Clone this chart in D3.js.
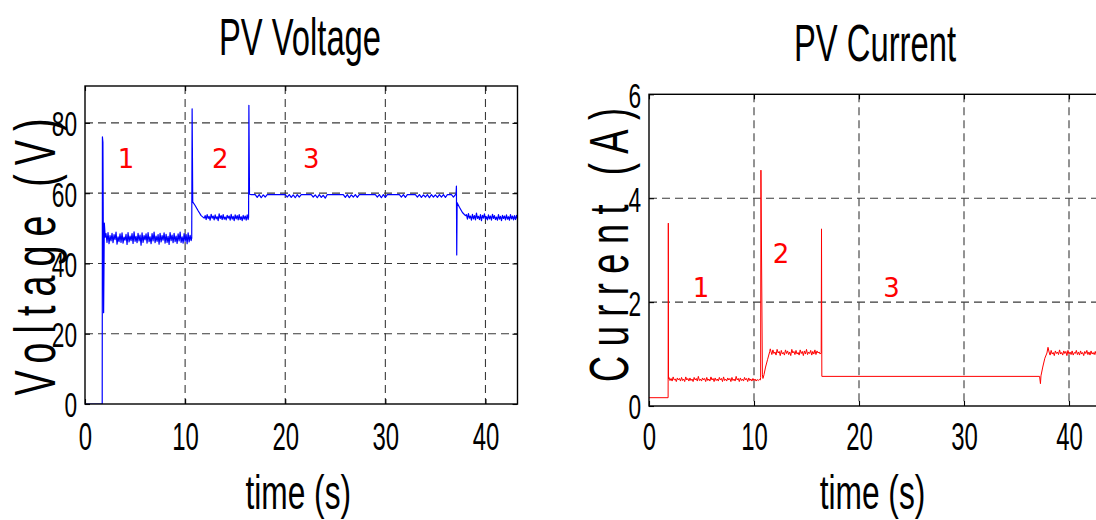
<!DOCTYPE html>
<html><head><meta charset="utf-8">
<script src="https://cdn.jsdelivr.net/npm/d3@7"></script>
<style>
html,body{margin:0;padding:0;background:#fff;}
svg{display:block;}
</style></head><body>
<svg id="chart" width="1096" height="520"></svg>
<script>
// ---------------- DATA ----------------
const xTicks = [0, 10, 20, 30, 40];
const voltageTicks = [0, 20, 40, 60, 80];
const currentTicks = [0, 2, 4, 6];
const xDomain = [0, 43.2];
const voltageDomain = [0, 90.5];
const currentDomain = [0, 6];
const SAMPLE_STEP = 0.1;      // sample step of the noisy recorded segments (s)
const FLAT_STEP = 0.2;        // sample step of the flat voltage segment (s)

// Voltage: hand-read key points (t, V)
const voltageStart = [[0,0],[1.72,0],[1.74,76],[1.79,74.5],[1.86,26],[1.93,51.5],[2.02,47.5]];
const voltageNoise1Start = 2.1;
const voltageNoise1 = [48.5,46.0,48.8,45.6,47.9,46.4,48.6,45.9,48.2,46.8,
48.9,45.5,47.6,46.2,48.4,46.0,48.7,45.8,47.5,46.6,
48.3,45.4,48.8,46.1,47.8,46.5,48.5,45.7,49.0,46.3,
47.7,45.9,48.6,46.4,48.1,45.2,48.7,46.0,47.9,46.7,
48.4,45.8,48.8,46.2,47.6,45.6,48.5,46.4,48.9,45.9,
47.8,46.3,48.2,45.5,48.6,46.1,47.9,46.6,48.7,45.8,
48.3,46.0,47.7,45.4,48.8,46.5,48.1,45.9,48.6,46.2,
47.8,45.7,48.4,46.4,48.9,46.0,47.6,45.8,48.5,46.3,
48.2,45.6,48.7,46.1,48.0,46.5];
const voltageStep2 = [[10.66,47.2],[10.7,84],[10.76,57.5],[11.0,56.5],[11.3,55],[11.6,53.6],[11.9,52.9]];
const voltageNoise2Start = 12.0;
const voltageNoise2 = [53.6,52.5,53.9,52.8,53.4,52.3,54.0,52.9,53.5,52.4,
53.8,52.7,53.3,52.2,54.1,52.8,53.6,52.5,53.9,52.6,
53.2,52.4,53.7,52.9,53.5,52.3,54.0,52.6,53.4,52.2,
53.8,52.7,53.6,52.4,53.9,52.5,53.3,52.2,53.7,52.6,
53.5,52.3,53.8,52.5];
const voltageStep3 = [[16.34,53.2],[16.37,85],[16.43,59.7]];
const voltageFlatStart = 16.6;
const voltageFlat = [59.6,59.6,59.6,58.8,59.6,58.7,59.5,58.9,59.6,59.6,
59.6,59.6,59.6,59.6,59.6,59.6,59.6,59.6,58.9,59.6,
58.8,59.5,58.7,59.6,58.9,59.6,59.6,59.6,59.6,59.6,
59.6,58.9,59.5,58.7,59.6,58.8,59.4,58.6,59.6,59.6,
59.6,59.6,59.6,59.6,59.6,59.6,59.6,58.8,59.6,58.7,
59.5,58.9,59.6,58.8,59.6,59.6,59.6,59.6,59.6,59.6,
59.6,59.6,59.6,58.9,59.6,58.7,59.6,58.8,59.6,59.6,
59.6,59.6,59.6,59.6,59.6,58.9,59.6,58.8,59.6,59.6,
59.6,59.6,59.6,58.9,59.6,58.8,59.5,58.9,59.6,58.7,
59.6,58.9,59.5,58.8,59.6,58.9,59.6,58.8,59.6,59.6,
59.6,58.9,59.6];
const voltageStep4 = [[37.06,59.6],[37.1,62],[37.13,42.4],[37.17,57.3],[37.4,56],[37.7,54.5],[38.0,53.6]];
const voltageNoise3Start = 38.1;
const voltageNoise3 = [53.9,52.6,54.2,52.9,53.5,52.3,54.0,52.7,53.6,52.4,
54.3,52.8,53.4,52.5,53.9,52.2,53.7,52.9,54.1,52.6,
53.3,52.4,53.8,52.7,53.5,52.3,54.0,52.8,53.6,52.5,
53.2,52.3,53.9,52.6,53.4,52.2,53.7,52.8,53.5,52.4,
53.8,52.6,53.3,52.3,53.9,52.7,53.5,52.4,53.6,52.5,
53.7,52.6];

// Current: hand-read key points (t, A)
const currentStart = [[0,0.16],[1.82,0.16],[1.84,3.52],[1.86,0.52]];
const currentNoise1Start = 1.9;
const currentNoise1 = [0.55,0.49,0.53,0.48,0.56,0.50,0.52,0.47,0.54,0.50,
0.53,0.48,0.55,0.49,0.52,0.47,0.56,0.50,0.53,0.48,
0.54,0.49,0.52,0.47,0.55,0.50,0.53,0.48,0.57,0.49,
0.52,0.48,0.54,0.50,0.53,0.47,0.55,0.49,0.52,0.48,
0.56,0.50,0.53,0.47,0.54,0.49,0.52,0.48,0.55,0.50,
0.53,0.47,0.56,0.49,0.52,0.48,0.54,0.50,0.53,0.47,
0.55,0.49,0.52,0.48,0.57,0.50,0.53,0.47,0.54,0.49,
0.52,0.48,0.55,0.50,0.53,0.47,0.54,0.49,0.52,0.48,
0.53,0.49,0.52,0.48,0.51,0.49,0.51];
const currentStep2 = [[10.6,0.5],[10.63,0.55],[10.66,4.54],[10.8,0.6],[10.85,0.53],[10.95,0.6],[11.1,0.75],[11.3,0.9],[11.5,1.05],[11.55,1.1]];
const currentNoise2Start = 11.6;
const currentNoise2 = [1.06,0.99,1.08,1.01,1.04,0.98,1.09,1.02,1.05,0.97,
1.07,1.00,1.03,0.98,1.08,1.01,1.06,0.99,1.04,0.97,
1.09,1.02,1.05,0.99,1.07,1.00,1.03,0.98,1.08,1.01,
1.05,0.97,1.06,1.00,1.09,0.99,1.04,1.01,1.07,0.98,
1.05,1.00,1.08,0.99,1.06,1.02,1.04,1.00];
const currentStep3 = [[16.4,1.02],[16.43,3.41],[16.46,0.57],[37.2,0.57],[37.28,0.43],[37.33,0.58],[37.5,0.75],[37.7,0.92],[37.9,1.02],[38.0,1.13]];
const currentNoise3Start = 38.1;
const currentNoise3 = [1.04,0.98,1.07,1.00,1.03,0.97,1.06,1.01,1.04,0.99,
1.08,1.00,1.03,0.98,1.06,1.01,1.05,0.97,1.07,1.00,
1.04,0.99,1.06,0.98,1.03,1.01,1.07,0.99,1.04,0.98,
1.06,1.00,1.03,0.97,1.05,1.01,1.07,0.99,1.04,0.98,
1.06,1.00,1.03,0.99,1.05,0.98,1.06,1.01,1.04,0.99,
1.05,1.00];

// Red region annotations
const regionLabels = ["1", "2", "3"];
const voltageLabelT = [4.1, 13.5, 22.6];
const voltageLabelV = [67.2, 67.2, 67.2];
const currentLabelT = [4.95, 12.57, 23.1];
const currentLabelA = [2.1, 2.75, 2.1];

// --------------- BUILD SERIES ---------------
const sampled = (t0, step, vals) => vals.map((v, i) => [t0 + i * step, v]);
const voltagePoints = [
  ...voltageStart,
  ...sampled(voltageNoise1Start, SAMPLE_STEP, voltageNoise1),
  ...voltageStep2,
  ...sampled(voltageNoise2Start, SAMPLE_STEP, voltageNoise2),
  ...voltageStep3,
  ...sampled(voltageFlatStart, FLAT_STEP, voltageFlat),
  ...voltageStep4,
  ...sampled(voltageNoise3Start, SAMPLE_STEP, voltageNoise3)
];
const currentPoints = [
  ...currentStart,
  ...sampled(currentNoise1Start, SAMPLE_STEP, currentNoise1),
  ...currentStep2,
  ...sampled(currentNoise2Start, SAMPLE_STEP, currentNoise2),
  ...currentStep3,
  ...sampled(currentNoise3Start, SAMPLE_STEP, currentNoise3)
];

// --------------- DRAW ---------------
const svg = d3.select("#chart");
const FONT = "'Liberation Sans', Arial, sans-serif";
const NARROW = 0.63;

function drawPanel(p) {
  const x = d3.scaleLinear().domain(xDomain).range([p.x0, p.x1]);
  const y = d3.scaleLinear().domain(p.yDomain).range([p.y1, p.y0]);
  const g = svg.append("g");
  const clipId = p.id + "-clip";
  g.append("clipPath").attr("id", clipId).append("rect")
    .attr("x", p.x0).attr("y", p.y0).attr("width", p.x1 - p.x0).attr("height", p.y1 - p.y0);

  // title
  g.append("text").text(p.title)
    .attr("transform", `translate(${p.titleX},${p.titleY}) scale(${NARROW},1)`)
    .attr("text-anchor", "middle").attr("font-family", FONT).attr("font-size", 52).attr("fill", "#000");

  // y label (rotated, wide spacing)
  g.append("text").text(p.yLabel)
    .attr("transform", `translate(${p.yLabelX},${p.yLabelY}) rotate(-90) scale(0.66,1)`)
    .attr("text-anchor", "middle").attr("font-family", FONT).attr("font-size", p.yLabelSize)
    .attr("textLength", p.yLabelLen / 0.66).attr("lengthAdjust", "spacing").attr("fill", "#000");

  // x label
  g.append("text").text("time (s)")
    .attr("transform", `translate(${(p.x0 + Math.min(p.x1, 1102)) / 2 - 3},${p.xLabelY}) scale(0.66,1)`)
    .attr("text-anchor", "middle").attr("font-family", FONT).attr("font-size", 48).attr("fill", "#000");

  // grid
  const grid = g.append("g").attr("stroke", "#3a3a3a").attr("stroke-width", 1.1).attr("stroke-dasharray", "8,5");
  grid.selectAll("line.v").data(xTicks.filter(t => t > xDomain[0] && t < xDomain[1])).join("line")
    .attr("class", "v").attr("x1", d => x(d)).attr("x2", d => x(d)).attr("y1", p.y0).attr("y2", p.y1);
  grid.selectAll("line.h").data(p.yTicks.filter(t => t > p.yDomain[0] && t < p.yDomain[1])).join("line")
    .attr("class", "h").attr("y1", d => y(d)).attr("y2", d => y(d)).attr("x1", p.x0).attr("x2", p.x1);

  // signal
  g.append("path").datum(p.points).attr("clip-path", `url(#${clipId})`)
    .attr("fill", "none").attr("stroke", p.color).attr("stroke-width", p.lw).attr("stroke-linejoin", "round")
    .attr("d", d3.line().x(d => x(d[0])).y(d => y(d[1])));

  // region labels
  g.selectAll("text.region").data(regionLabels).join("text").attr("class", "region")
    .attr("x", (d, i) => x(p.labelT[i])).attr("y", (d, i) => y(p.labelV[i]))
    .attr("text-anchor", "middle").attr("font-family", "'DejaVu Sans', sans-serif")
    .attr("font-size", 26).attr("fill", "#ff0000").text(d => d);

  // axes (ticks inward on all sides)
  const axB = g.append("g").attr("transform", `translate(0,${p.y1})`)
    .call(d3.axisBottom(x).tickValues(xTicks).tickSize(-5).tickFormat(d3.format("d")));
  const axT = g.append("g").attr("transform", `translate(0,${p.y0})`)
    .call(d3.axisTop(x).tickValues(xTicks).tickSize(-5).tickFormat(""));
  const axL = g.append("g").attr("transform", `translate(${p.x0},0)`)
    .call(d3.axisLeft(y).tickValues(p.yTicks).tickSize(-5).tickFormat(d3.format("d")));
  const axR = g.append("g").attr("transform", `translate(${p.x1},0)`)
    .call(d3.axisRight(y).tickValues(p.yTicks).tickSize(-5).tickFormat(""));
  [axB, axT, axL, axR].forEach(a => {
    a.select(".domain").remove();
    a.selectAll(".tick line").attr("stroke", "#000").attr("stroke-width", 1.1);
  });
  axB.selectAll("text").attr("y", p.xTickY).attr("dy", null)
    .attr("transform", `scale(${NARROW},1)`).attr("font-family", FONT).attr("font-size", 38).attr("fill", "#000");
  axL.selectAll("text").attr("x", -8 / NARROW).attr("dy", "0.36em")
    .attr("transform", `scale(${NARROW},1)`).attr("font-family", FONT).attr("font-size", 36).attr("fill", "#000");

  // box
  g.append("rect").attr("x", p.x0).attr("y", p.y0).attr("width", p.x1 - p.x0).attr("height", p.y1 - p.y0)
    .attr("fill", "none").attr("stroke", "#000").attr("stroke-width", 1.4);
}

drawPanel({
  id: "volt", title: "PV Voltage", titleX: 300, titleY: 55,
  x0: 85, x1: 517.5, y0: 86, y1: 404,
  yDomain: voltageDomain, yTicks: voltageTicks,
  yLabel: "Voltage (V)", yLabelX: 55, yLabelY: 257, yLabelSize: 57, yLabelLen: 277,
  xLabelY: 509, xTickY: 46,
  points: voltagePoints, color: "#0000ff", lw: 1.2,
  labelT: voltageLabelT, labelV: voltageLabelV
});
drawPanel({
  id: "curr", title: "PV Current", titleX: 875, titleY: 61,
  x0: 649, x1: 1102.6, y0: 94.3, y1: 406,
  yDomain: currentDomain, yTicks: currentTicks,
  yLabel: "Current (A)", yLabelX: 628, yLabelY: 245, yLabelSize: 55, yLabelLen: 274,
  xLabelY: 509, xTickY: 44,
  points: currentPoints, color: "#ff0000", lw: 1,
  labelT: currentLabelT, labelV: currentLabelA
});
</script>
</body></html>
